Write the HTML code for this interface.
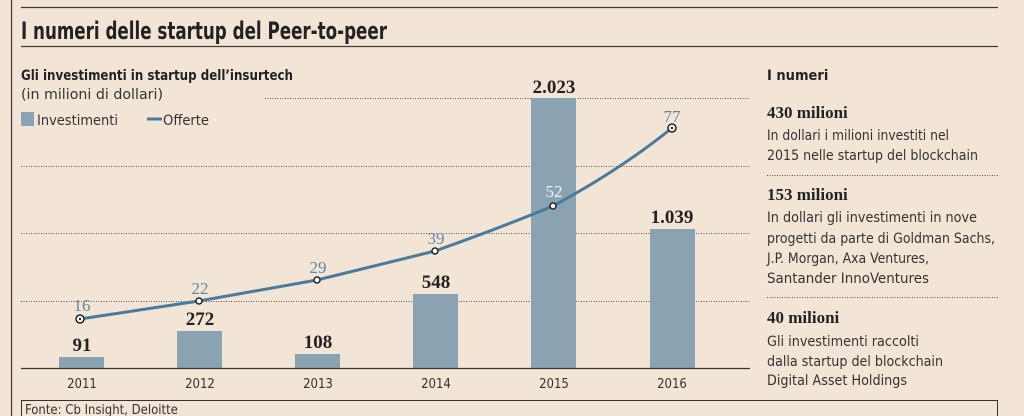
<!DOCTYPE html>
<html><head><meta charset="utf-8"><style>
html,body{margin:0;padding:0;background:#f3e5d6;}
svg{display:block}
.s{font-family:"DejaVu Sans Condensed","Liberation Sans",sans-serif;}
.r{font-family:"Liberation Serif",serif;font-weight:bold;}
</style></head><body>
<svg width="1024" height="416" viewBox="0 0 1024 416">
<rect width="1024" height="416" fill="#f3e5d6"/>
<line x1="11.5" y1="0" x2="11.5" y2="416" stroke="#3a3a3a" stroke-width="1.2"/>
<line x1="21" y1="7.5" x2="998" y2="7.5" stroke="#3a3a3a" stroke-width="1.3"/>
<line x1="21" y1="46.5" x2="998" y2="46.5" stroke="#3a3a3a" stroke-width="1.3"/>
<text x="21" y="39" class="s" font-size="24" font-weight="bold" fill="#222" textLength="366" lengthAdjust="spacingAndGlyphs">I numeri delle startup del Peer-to-peer</text>
<text x="21" y="80" class="s" font-size="14" font-weight="bold" fill="#222" textLength="272" lengthAdjust="spacingAndGlyphs">Gli investimenti in startup dell’insurtech</text>
<text x="21" y="99" class="s" font-size="14" fill="#333" textLength="142" lengthAdjust="spacingAndGlyphs">(in milioni di dollari)</text>
<rect x="21" y="112" width="13" height="14" fill="#8aa3b2"/>
<text x="37" y="125" class="s" font-size="14" fill="#333" textLength="81" lengthAdjust="spacingAndGlyphs">Investimenti</text>
<line x1="147" y1="119" x2="162" y2="119" stroke="#4a7a9c" stroke-width="3"/>
<text x="163" y="125" class="s" font-size="14" fill="#333" textLength="46" lengthAdjust="spacingAndGlyphs">Offerte</text>
<g stroke="#555" stroke-width="1" stroke-dasharray="1,1.5">
<line x1="265" y1="98.5" x2="750" y2="98.5"/>
<line x1="21" y1="166.5" x2="750" y2="166.5"/>
<line x1="21" y1="233.5" x2="750" y2="233.5"/>
<line x1="21" y1="301.5" x2="750" y2="301.5"/>
<line x1="767" y1="175.5" x2="998" y2="175.5"/>
<line x1="767" y1="297.5" x2="998" y2="297.5"/>
</g>
<g fill="#8aa3b2">
<rect x="59" y="357" width="45" height="11"/>
<rect x="177" y="331" width="45" height="37"/>
<rect x="295" y="354" width="45" height="14"/>
<rect x="413" y="294" width="45" height="74"/>
<rect x="531" y="98" width="45" height="270"/>
<rect x="650" y="229" width="45" height="139"/>
</g>
<line x1="21" y1="368.5" x2="750" y2="368.5" stroke="#333" stroke-width="1.2"/>
<g class="r" font-size="19" fill="#222" text-anchor="middle">
<text x="82" y="351">91</text>
<text x="200" y="325">272</text>
<text x="318" y="348">108</text>
<text x="436" y="288">548</text>
<text x="554" y="93">2.023</text>
<text x="672" y="223">1.039</text>
</g>
<g class="s" font-size="13" fill="#333" text-anchor="middle">
<text x="82" y="388">2011</text><text x="200" y="388">2012</text><text x="318" y="388">2013</text>
<text x="436" y="388">2014</text><text x="554" y="388">2015</text><text x="672" y="388">2016</text>
</g>
<path d="M80,319 L199,301 L317,280 L435,251 Q500,228 553,206 Q620,170 672,128" fill="none" stroke="#4a7a9c" stroke-width="3"/>
<g fill="#fff" stroke="#222" stroke-width="1.5">
<circle cx="80" cy="319" r="4"/><circle cx="199" cy="301" r="3"/><circle cx="317" cy="280" r="3"/>
<circle cx="435" cy="251" r="3"/><circle cx="553" cy="206" r="3"/><circle cx="672" cy="128" r="4"/>
</g>
<circle cx="80" cy="319" r="1.2" fill="#222"/><circle cx="672" cy="128" r="1.2" fill="#222"/>
<g font-family="Liberation Serif,serif" font-size="17" fill="#5f88a6" text-anchor="middle">
<text x="82" y="311">16</text><text x="200" y="294">22</text><text x="318" y="273">29</text>
<text x="436" y="244">39</text><text x="554" y="197" fill="#eef2f4">52</text><text x="672" y="122">77</text>
</g>
<text x="767" y="80" class="s" font-size="14.5" font-weight="bold" fill="#222">I numeri</text>
<g class="r" font-size="17" fill="#222">
<text x="767" y="118">430 milioni</text>
<text x="767" y="200">153 milioni</text>
<text x="767" y="323">40 milioni</text>
</g>
<g class="s" font-size="14" fill="#333">
<text x="767" y="140" textLength="182" lengthAdjust="spacingAndGlyphs">In dollari i milioni investiti nel</text>
<text x="767" y="160" textLength="211" lengthAdjust="spacingAndGlyphs">2015 nelle startup del blockchain</text>
<text x="767" y="222" textLength="210" lengthAdjust="spacingAndGlyphs">In dollari gli investimenti in nove</text>
<text x="767" y="243" textLength="228" lengthAdjust="spacingAndGlyphs">progetti da parte di Goldman Sachs,</text>
<text x="767" y="263" textLength="162" lengthAdjust="spacingAndGlyphs">J.P. Morgan, Axa Ventures,</text>
<text x="767" y="283" textLength="162" lengthAdjust="spacingAndGlyphs">Santander InnoVentures</text>
<text x="767" y="346" textLength="152" lengthAdjust="spacingAndGlyphs">Gli investimenti raccolti</text>
<text x="767" y="366" textLength="176" lengthAdjust="spacingAndGlyphs">dalla startup del blockchain</text>
<text x="767" y="385" textLength="140" lengthAdjust="spacingAndGlyphs">Digital Asset Holdings</text>
</g>
<rect x="21.5" y="400.5" width="976" height="20" fill="none" stroke="#333" stroke-width="1"/>
<text x="25" y="414" class="s" font-size="13" fill="#333">Fonte: Cb Insight, Deloitte</text>
</svg>
</body></html>
